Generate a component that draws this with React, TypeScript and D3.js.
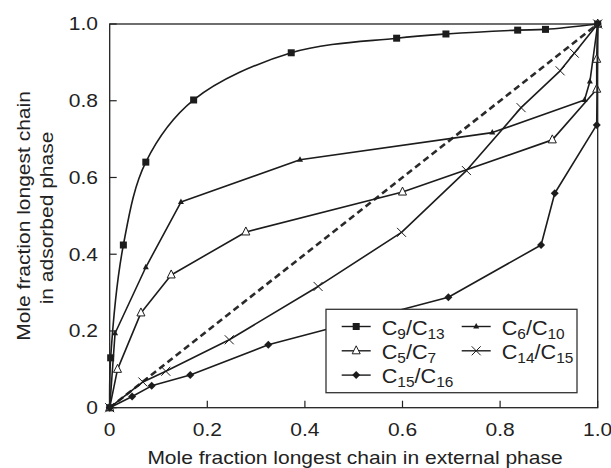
import React from "react";
import * as d3 from "d3";

const W = 611;
const H = 468;

const xTicks = [0, 0.2, 0.4, 0.6, 0.8, 1.0];
const yTicks = [0, 0.2, 0.4, 0.6, 0.8, 1.0];
const tickLabels = ["0", "0.2", "0.4", "0.6", "0.8", "1.0"];

const c9c13X = [0, 0.002, 0.028, 0.074, 0.172, 0.372, 0.588, 0.689, 0.836, 0.893, 1.0];
const c9c13Y = [0, 0.13, 0.424, 0.64, 0.802, 0.925, 0.963, 0.974, 0.984, 0.986, 1.0];

const c6c10X = [0, 0.011, 0.074, 0.146, 0.39, 0.784, 0.973, 0.984, 1.0];
const c6c10Y = [0, 0.194, 0.366, 0.536, 0.646, 0.717, 0.802, 0.85, 1.0];

const c5c7X = [0, 0.016, 0.064, 0.126, 0.279, 0.6, 0.907, 0.998, 0.998, 1.0];
const c5c7Y = [0, 0.1, 0.247, 0.346, 0.458, 0.562, 0.698, 0.83, 0.908, 1.0];

const c14c15X = [0, 0.068, 0.115, 0.245, 0.427, 0.598, 0.731, 0.843, 0.923, 0.952, 1.0];
const c14c15Y = [0, 0.067, 0.095, 0.177, 0.316, 0.457, 0.618, 0.782, 0.878, 0.924, 1.0];

const c15c16X = [0, 0.046, 0.086, 0.165, 0.325, 0.694, 0.884, 0.912, 0.998, 1.0];
const c15c16Y = [0, 0.029, 0.057, 0.085, 0.164, 0.288, 0.424, 0.559, 0.737, 1.0];

const diagX = [0, 1];
const diagY = [0, 1];

type Marker = "square" | "triUp" | "triOpen" | "cross" | "diamond";

const seriesList: { name: [string, string, string, string]; xs: number[]; ys: number[]; marker: Marker; smooth: boolean }[] = [
  { name: ["C", "9", "/C", "13"], xs: c9c13X, ys: c9c13Y, marker: "square", smooth: true },
  { name: ["C", "6", "/C", "10"], xs: c6c10X, ys: c6c10Y, marker: "triUp", smooth: false },
  { name: ["C", "5", "/C", "7"], xs: c5c7X, ys: c5c7Y, marker: "triOpen", smooth: false },
  { name: ["C", "14", "/C", "15"], xs: c14c15X, ys: c14c15Y, marker: "cross", smooth: false },
  { name: ["C", "15", "/C", "16"], xs: c15c16X, ys: c15c16Y, marker: "diamond", smooth: false },
];

const INK = "#1c1c1c";
const FONT = "'Liberation Sans', Arial, Helvetica, sans-serif";

const x = d3.scaleLinear().domain([0, 1]).range([109.7, 597.7]);
const y = d3.scaleLinear().domain([0, 1]).range([407.7, 24]);

function MarkerShape({ type, cx, cy }: { type: Marker; cx: number; cy: number }) {
  switch (type) {
    case "square":
      return <rect x={cx - 3.5} y={cy - 3.5} width={7} height={7} fill={INK} />;
    case "triUp":
      return <path d={`M${cx},${cy - 3.5}L${cx + 3},${cy + 2}L${cx - 3},${cy + 2}Z`} fill={INK} />;
    case "triOpen":
      return (
        <path
          d={`M${cx},${cy - 5}L${cx + 4},${cy + 3}L${cx - 4},${cy + 3}Z`}
          fill="white"
          stroke={INK}
          strokeWidth={1}
        />
      );
    case "cross":
      return (
        <path
          d={`M${cx - 4.5},${cy - 4.5}L${cx + 4.5},${cy + 4.5}M${cx - 4.5},${cy + 4.5}L${cx + 4.5},${cy - 4.5}`}
          stroke={INK}
          strokeWidth={1}
        />
      );
    case "diamond":
      return <path d={`M${cx},${cy - 4}L${cx + 4},${cy}L${cx},${cy + 4}L${cx - 4},${cy}Z`} fill={INK} />;
  }
}

function SText({ tx, ty, anchor, size, sx = 1.2, children, rotate = 0 }: any) {
  return (
    <text
      transform={`translate(${tx},${ty}) rotate(${rotate}) scale(${sx},1)`}
      textAnchor={anchor}
      fontSize={size}
      fontFamily={FONT}
      fill="#222"
    >
      {children}
    </text>
  );
}

export default function App() {
  const straight = d3
    .line<[number, number]>()
    .x((d) => x(d[0]))
    .y((d) => y(d[1]));
  const smooth = d3
    .line<[number, number]>()
    .x((d) => x(d[0]))
    .y((d) => y(d[1]))
    .curve(d3.curveCatmullRom.alpha(0.5));

  const diag = straight(diagX.map((v, i) => [v, diagY[i]] as [number, number]));

  const legendLeft = 326;
  const legendTop = 309.3;
  const legendW = 251;
  const legendH = 83.4;
  const legendPos = [
    { col: 0, row: 0 },
    { col: 1, row: 0 },
    { col: 0, row: 1 },
    { col: 1, row: 1 },
    { col: 0, row: 2 },
  ];
  const colX = [341.7, 461.7];

  return (
    <svg
      width={W}
      height={H}
      style={{ position: "absolute", left: 0, top: 0, background: "white" }}
    >
      <rect x={0} y={0} width={W} height={H} fill="white" />
      {/* diagonal */}
      <path d={diag || ""} fill="none" stroke="#2a2a2a" strokeWidth={2.6} strokeDasharray="6.5,4" />

      {/* series */}
      {seriesList.map((s, si) => {
        const pts = s.xs.map((v, i) => [v, s.ys[i]] as [number, number]);
        const d = (s.smooth ? smooth : straight)(pts) || "";
        return (
          <g key={si}>
            <path d={d} fill="none" stroke={INK} strokeWidth={1.6} strokeLinejoin="round" />
            {pts.map((p, i) => (
              <MarkerShape key={i} type={s.marker} cx={x(p[0])} cy={y(p[1])} />
            ))}
          </g>
        );
      })}

      {/* frame */}
      <rect
        x={x(0)}
        y={y(1)}
        width={x(1) - x(0)}
        height={y(0) - y(1)}
        fill="none"
        stroke="#222"
        strokeWidth={1.3}
      />
      {/* ticks */}
      {xTicks.map((t, i) => (
        <g key={"xt" + i}>
          <line x1={x(t)} x2={x(t)} y1={y(0)} y2={y(0) - 7} stroke="#222" strokeWidth={1.2} />
          <SText tx={x(t)} ty={435.5} anchor="middle" size={17.5}>
            {tickLabels[i]}
          </SText>
        </g>
      ))}
      {yTicks.map((t, i) => (
        <g key={"yt" + i}>
          <line x1={x(0)} x2={x(0) + 7} y1={y(t)} y2={y(t)} stroke="#222" strokeWidth={1.2} />
          <SText tx={98} ty={y(t) + 6.3} anchor="end" size={17.5}>
            {tickLabels[i]}
          </SText>
        </g>
      ))}

      {/* axis titles */}
      <SText tx={355} ty={464.3} anchor="middle" size={17.5}>
        Mole fraction longest chain in external phase
      </SText>
      <SText tx={29.5} ty={216} anchor="middle" size={17.5} rotate={-90}>
        Mole fraction longest chain
      </SText>
      <SText tx={53} ty={218} anchor="middle" size={17.5} rotate={-90}>
        in adsorbed phase
      </SText>

      {/* legend */}
      <rect
        x={legendLeft}
        y={legendTop}
        width={legendW}
        height={legendH}
        fill="white"
        stroke="#333"
        strokeWidth={1.3}
      />
      {seriesList.map((s, i) => {
        const pos = legendPos[i];
        const lx = colX[pos.col];
        const ly = 326.5 + pos.row * 24.3;
        return (
          <g key={"lg" + i}>
            <line x1={lx} x2={lx + 29} y1={ly} y2={ly} stroke={INK} strokeWidth={1.4} />
            <MarkerShape type={s.marker} cx={lx + 14.5} cy={ly} />
            <text
              transform={`translate(${lx + 40},${ly + 8}) scale(1.03,1)`}
              fontSize={21}
              fontFamily={FONT}
              fill="#222"
            >
              <tspan>{s.name[0]}</tspan>
              <tspan fontSize={15} dy={4}>
                {s.name[1]}
              </tspan>
              <tspan dy={-4}>{s.name[2]}</tspan>
              <tspan fontSize={15} dy={4}>
                {s.name[3]}
              </tspan>
            </text>
          </g>
        );
      })}
    </svg>
  );
}
